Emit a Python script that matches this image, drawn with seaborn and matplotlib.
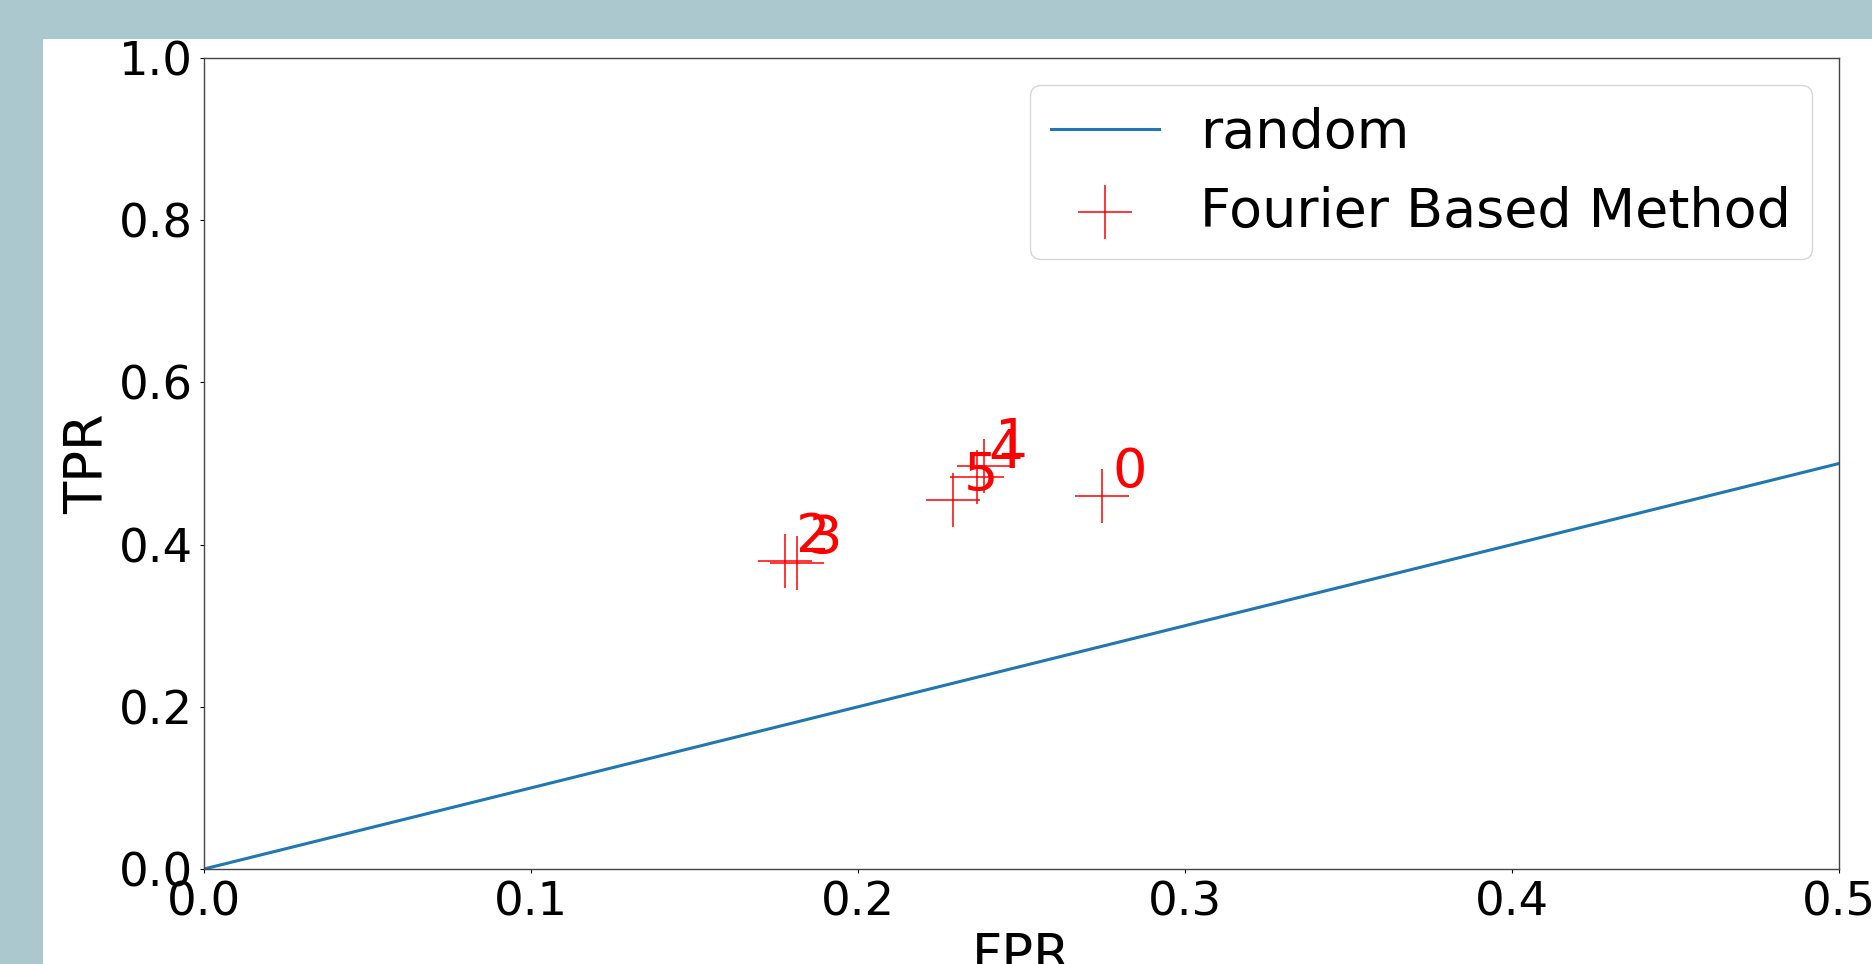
import matplotlib
matplotlib.use('Agg')
import matplotlib.pyplot as plt
import matplotlib.patches as mpatches
import pandas as pd
import seaborn as sns

# values
point_ids = ['0', '1', '2', '3', '4', '5']
fpr = [0.2745, 0.2385, 0.1777, 0.1813, 0.2364, 0.2291]
tpr = [0.460, 0.497, 0.380, 0.377, 0.483, 0.455]
random_fpr = [0.0, 0.25, 0.5, 0.75, 1.0]
random_tpr = [0.0, 0.25, 0.5, 0.75, 1.0]
x_ticks = [0.0, 0.1, 0.2, 0.3, 0.4, 0.5]
y_ticks = [0.0, 0.2, 0.4, 0.6, 0.8, 1.0]

df_pts = pd.DataFrame({'FPR': fpr, 'TPR': tpr, 'id': point_ids})
df_rand = pd.DataFrame({'FPR': random_fpr, 'TPR': random_tpr})

plt.rcParams['font.family'] = ['DejaVu Sans']

fig = plt.figure(figsize=(18.72, 9.64), dpi=100)
fig.patch.set_facecolor('#abc8ce')
# white page area of the screenshot
fig.patches.append(mpatches.Rectangle((43 / 1872, 0), 1, 1 - 39 / 964,
                                      transform=fig.transFigure,
                                      facecolor='white', edgecolor='none', zorder=-10))

ax = fig.add_axes([204 / 1872, 95 / 964, 1635 / 1872, 811 / 964])
ax.set_facecolor('white')

sns.lineplot(x='FPR', y='TPR', data=df_rand, ax=ax, color='#1f77b4',
             linewidth=2.2, label='random', estimator=None, sort=False)
sns.scatterplot(x='FPR', y='TPR', data=df_pts, ax=ax, marker='+', s=39 ** 2,
                color='red', linewidth=1.1, label='Fourier Based Method')

for i, x, y in zip(df_pts['id'], df_pts['FPR'], df_pts['TPR']):
    ax.annotate(i, (x, y), xytext=(8, 6.5), textcoords='offset points',
                color='red', fontsize=39)

ax.set_xlim(0, 0.5)
ax.set_ylim(0, 1.0)
ax.set_xticks(x_ticks)
ax.set_yticks(y_ticks)
ax.set_xticklabels(['0.0', '0.1', '0.2', '0.3', '0.4', '0.5'])
ax.set_yticklabels(['0.0', '0.2', '0.4', '0.6', '0.8', '1.0'])
ax.tick_params(labelsize=33.5, length=3, width=0.8, pad=5)
ax.set_xlabel('FPR', fontsize=38)
ax.set_ylabel('TPR', fontsize=38)
for s in ax.spines.values():
    s.set_linewidth(1.0)
    s.set_color('#444444')

ax.legend(loc='upper right', fontsize=38.8, handletextpad=0.75)

fig.savefig('out.png', dpi=100, facecolor=fig.get_facecolor())
